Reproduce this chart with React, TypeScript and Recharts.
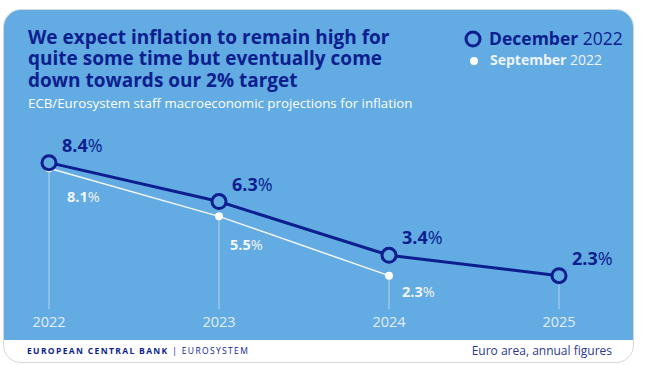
import { LabelList, Line, LineChart, ReferenceLine, XAxis, YAxis } from "recharts";

const years = [2022, 2023, 2024, 2025];
const december = [8.4, 6.3, 3.4, 2.3];
const september: (number | null)[] = [8.1, 5.5, 2.3, null];

const BLUE = "#62abe3";
const NAVY = "#0d1e8e";
const FONT = "'Open Sans', 'Noto Sans', sans-serif";

// label nudges for the September figures (they sit under the white dots)
const SEP_DX = [18, 11, 13, 13];
const SEP_DY = [34, 34, 21, 21];

const data = years.map((year, i) => ({ year, dec: december[i], sep: september[i] }));

function DecLabel(props: any) {
  const { x, y, value } = props;
  if (value == null) return null;
  return (
    <text x={x + 13} y={y - 11} fill={NAVY} fontSize={18} fontFamily={FONT}>
      <tspan fontWeight={700}>{Number(value).toFixed(1)}</tspan>
      <tspan fontWeight={400}>%</tspan>
    </text>
  );
}

function SepLabel(props: any) {
  const { x, y, value, index } = props;
  if (value == null) return null;
  return (
    <text x={x + SEP_DX[index]} y={y + SEP_DY[index]} fill="#f2f6fb" fontSize={14.5} fontFamily={FONT}>
      <tspan fontWeight={700}>{Number(value).toFixed(1)}</tspan>
      <tspan fontWeight={400}>%</tspan>
    </text>
  );
}

function SepDot(props: any) {
  const { cx, cy, value } = props;
  if (value == null || cy == null) return null;
  return <circle cx={cx} cy={cy} r={4} fill="#ffffff" />;
}

const titleLine = (top: number) => ({
  position: "absolute" as const,
  left: 28,
  top,
  fontSize: 19,
  lineHeight: "21px",
  fontWeight: 700,
  color: NAVY,
  whiteSpace: "nowrap" as const,
});

export default function App() {
  return (
    <div style={{ position: "absolute", left: 0, top: 0, width: 656, height: 365, background: "#fff", fontFamily: FONT }}>
      <div
        style={{
          position: "absolute",
          left: 3,
          top: 9,
          width: 631,
          height: 354,
          boxSizing: "border-box",
          border: "1px solid #d3d7dc",
          borderRadius: 18,
          overflow: "hidden",
          background: "#fff",
        }}
      >
        <div style={{ height: 330, background: BLUE }} />
      </div>

      <div style={titleLine(26.5)}>We expect inflation to remain high for</div>
      <div style={titleLine(48)}>quite some time but eventually come</div>
      <div style={titleLine(69.5)}>down towards our 2% target</div>
      <div style={{ position: "absolute", left: 28, top: 93.8, fontSize: 13.3, color: "#ffffff", whiteSpace: "nowrap" }}>
        ECB/Eurosystem staff macroeconomic projections for inflation
      </div>

      <svg style={{ position: "absolute", left: 460, top: 28 }} width={28} height={42}>
        <circle cx={13} cy={11} r={7} fill="none" stroke={NAVY} strokeWidth={3} />
        <circle cx={14} cy={33} r={4} fill="#ffffff" />
      </svg>
      <div style={{ position: "absolute", left: 489, top: 26.3, fontSize: 17.5, color: NAVY, whiteSpace: "nowrap" }}>
        <b>December</b> 2022
      </div>
      <div style={{ position: "absolute", left: 490, top: 50, fontSize: 14, color: "#eef4fb", whiteSpace: "nowrap" }}>
        <b>September</b> 2022
      </div>

      <div style={{ position: "absolute", left: 0, top: 0 }}>
        <LineChart width={656} height={365} data={data} margin={{ top: 133, right: 97, bottom: 26, left: 49 }}>
          <XAxis
            dataKey="year"
            type="number"
            domain={[2022, 2025]}
            ticks={years}
            axisLine={false}
            tickLine={false}
            tickSize={6}
            tickMargin={2}
            height={30}
            tick={{ fill: "#e3eef9", fontSize: 14.5, fontFamily: FONT }}
          />
          <YAxis hide domain={[0.5, 10]} />
          {data.map((d) => (
            <ReferenceLine
              key={d.year}
              segment={[
                { x: d.year, y: d.sep ?? d.dec },
                { x: d.year, y: 0.5 },
              ]}
              stroke="#b3d4f1"
              strokeWidth={1}
            />
          ))}
          <Line
            dataKey="sep"
            stroke="#f4f8fc"
            strokeWidth={1.5}
            dot={<SepDot />}
            activeDot={false}
            isAnimationActive={false}
          >
            <LabelList dataKey="sep" content={<SepLabel />} />
          </Line>
          <Line
            dataKey="dec"
            stroke={NAVY}
            strokeWidth={3}
            dot={{ r: 7, fill: BLUE, stroke: NAVY, strokeWidth: 3 }}
            activeDot={false}
            isAnimationActive={false}
          >
            <LabelList dataKey="dec" content={<DecLabel />} />
          </Line>
        </LineChart>
      </div>

      <div style={{ position: "absolute", left: 27, top: 345, fontSize: 8.5, letterSpacing: 1.35, color: NAVY, whiteSpace: "nowrap" }}>
        <b>EUROPEAN CENTRAL BANK</b> | EUROSYSTEM
      </div>
      <div style={{ position: "absolute", right: 44, top: 342, fontSize: 12, color: "#2b3891", whiteSpace: "nowrap" }}>
        Euro area, annual figures
      </div>
    </div>
  );
}
